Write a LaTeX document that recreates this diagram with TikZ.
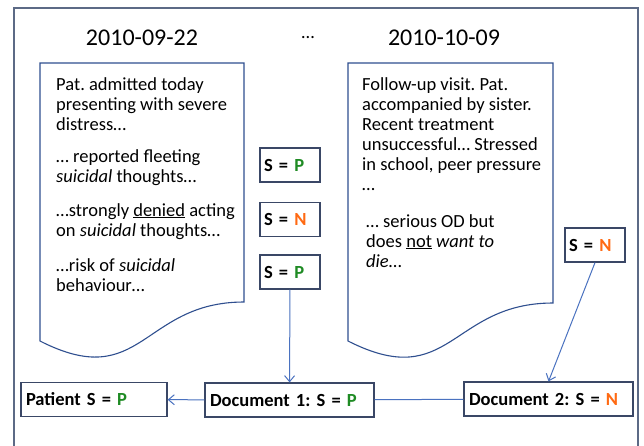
\documentclass[tikz,border=0pt]{standalone}
\usepackage{fontspec}
\setmainfont{Carlito}
\usepackage{xcolor}
\usetikzlibrary{arrows.meta}

\definecolor{framegray}{HTML}{5C6A86}
\definecolor{boxline}{HTML}{3A4766}
\definecolor{docline}{HTML}{2F4F8F}
\definecolor{arrowblue}{HTML}{4A72C0}
\definecolor{posgreen}{HTML}{1F8B24}
\definecolor{negorange}{HTML}{FF6A13}

\newcommand{\valP}{\textcolor{posgreen}{P}}
\newcommand{\valN}{\textcolor{negorange}{N}}
\frenchspacing

\begin{document}
\begin{tikzpicture}[x=1pt,y=1pt,
		>={Straight Barb[length=6pt,width=10pt]},
		datehead/.style={anchor=base,inner sep=0pt,font=\fontsize{24}{28}\selectfont},
		doctext/.style={anchor=north west,inner sep=0pt,align=left,font=\fontsize{18.5}{20}\selectfont},
		sbox/.style={rectangle,draw=boxline,line width=1.2pt,fill=white,minimum height=34pt,text width=52pt,inner xsep=4pt,align=left,font=\fontsize{18.5}{20}\selectfont\bfseries},
		resbox/.style={rectangle,draw=boxline,line width=1.2pt,fill=white,minimum height=34pt,inner xsep=5pt,align=left,font=\fontsize{18.5}{20}\selectfont\bfseries},
		docshape/.style={draw=docline,line width=1.1pt,fill=white},
		link/.style={draw=arrowblue,line width=1pt}]
		\useasboundingbox (0,0) rectangle (644,-445);
		\fill[white] (0,0) rectangle (644,-445);

		% frame
		\draw[framegray,line width=2pt] (14,-447) -- (14,-8) -- (638,-8) -- (638,-447);

		% dates
		\node[datehead] (dateone) at (142,-45) {2010-09-22};
		\node[datehead,font=\fontsize{18.5}{20}\selectfont] (dots) at (308,-38) {…};
		\node[datehead] (datetwo) at (444,-45) {2010-10-09};

		% documents
		\draw[docshape] (40,-63) -- (244,-63) -- (244,-302) .. controls (142,-302) and (142,-393) .. (40,-341) -- cycle;
		\draw[docshape] (348,-63) -- (553,-63) -- (553,-303) .. controls (450.5,-303) and (450.5,-393) .. (348,-341) -- cycle;

		\node[doctext] (noteonea) at (56,-77) {Pat. admitted today\\presenting with severe\\distress…};
		\node[doctext] (noteoneb) at (56,-149) {… reported fleeting\\\textit{suicidal} thoughts…};
		\node[doctext] (noteonec) at (56,-203) {…strongly \underline{denied} acting\\on \textit{suicidal} thoughts…};
		\node[doctext] (noteoned) at (56,-258) {…risk of \textit{suicidal}\\behaviour…};

		\node[doctext] (notetwoa) at (362,-77) {Follow-up visit. Pat.\\accompanied by sister.\\Recent treatment\\unsuccessful… Stressed\\in school, peer pressure\\…};
		\node[doctext] (notetwob) at (366,-214) {… serious OD but\\does \underline{not} \textit{want to}\\\textit{die}…};

		% sentence labels
		\node[sbox] (sone) at (290,-165) {S = \valP};
		\node[sbox] (stwo) at (290,-219.5) {S = \valN};
		\node[sbox] (sthree) at (290,-272) {S = \valP};
		\node[sbox] (sfour) at (595,-245) {S = \valN};

		% document and patient labels
		\node[resbox,text width=136pt] (patient) at (94,-399.5) {Patient S = \valP};
		\node[resbox,text width=159pt] (docone) at (289.5,-400) {Document 1: S = \valP};
		\node[resbox,text width=159pt] (doctwo) at (548.5,-399) {Document 2: S = \valN};

		\draw[link,->] (sthree) -- (docone);
		\draw[link,->] (sfour.south) -- (doctwo.north);
		\draw[link,->] (docone) -- (patient);
		\draw[link] (doctwo) -- (docone);
\end{tikzpicture}
\end{document}
